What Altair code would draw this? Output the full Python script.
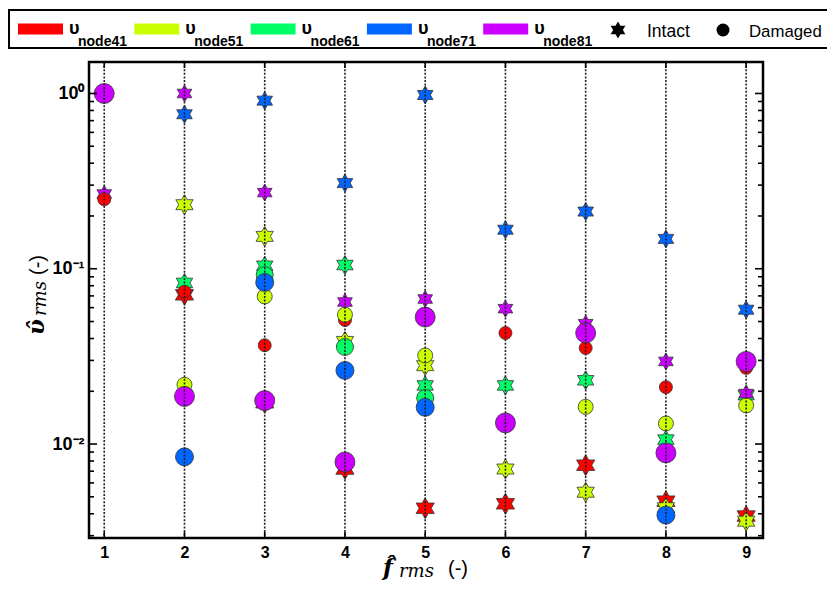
import altair as alt
import pandas as pd

# ---------------- data ----------------
nodes = ["node41", "node51", "node61", "node71", "node81"]
x_vals = [1, 2, 3, 4, 5, 6, 7, 8, 9]

# intact (stars)
intact_41 = [None, 0.071, 0.0172, 0.0072, 0.0043, 0.00456, 0.00757, 0.00472, 0.00388]
intact_51 = [None, 0.232, 0.153, 0.0385, 0.028, 0.0072, 0.00531, 0.00433, 0.00363]
intact_61 = [None, 0.083, 0.104, 0.105, 0.0216, 0.0216, 0.0231, 0.0106, 0.019]
intact_71 = [None, 0.761, 0.91, 0.308, 0.98, 0.167, 0.212, 0.148, 0.0584]
intact_81 = [0.267, 1.0, 0.272, 0.0646, 0.0672, 0.0592, 0.0486, 0.0296, 0.0194]

# damaged (circles)
damaged_41 = [0.249, 0.074, 0.0366, 0.051, None, 0.043, 0.0353, 0.0211, 0.0272]
damaged_51 = [None, 0.0218, 0.0695, 0.0547, 0.032, None, 0.0163, 0.0131, 0.0166]
damaged_61 = [None, None, 0.092, 0.0358, 0.0183, None, None, None, None]
damaged_71 = [None, 0.00845, 0.0835, 0.0263, 0.0162, None, None, 0.00393, None]
damaged_81 = [1.0, 0.0187, 0.0177, 0.0079, 0.053, 0.0132, 0.043, 0.0089, 0.0296]

y_major = [1.0, 0.1, 0.01]
y_minor = [0.003, 0.004, 0.005, 0.006, 0.007, 0.008, 0.009,
           0.02, 0.03, 0.04, 0.05, 0.06, 0.07, 0.08, 0.09,
           0.2, 0.3, 0.4, 0.5, 0.6, 0.7, 0.8, 0.9]

# ---------------- styles ----------------
colors = ["#ff0000", "#ccff00", "#00ff66", "#0066ff", "#cc00ff"]
star_sizes = [441, 400, 361, 324, 289]
circle_sizes = [169, 225, 289, 324, 400]
HEX = ("M0,-1L0.2887,-0.5L0.866,-0.5L0.5774,0L0.866,0.5L0.2887,0.5L0,1"
       "L-0.2887,0.5L-0.866,0.5L-0.5774,0L-0.866,-0.5L-0.2887,-0.5Z")

W, H = 674, 476


def build(series, sizes):
    rows = []
    for i, s in enumerate(series):
        for x, v in zip(x_vals, s):
            if v is not None:
                rows.append({"x": x, "v": v, "node": nodes[i],
                             "col": colors[i], "sz": sizes[i]})
    return pd.DataFrame(rows)


df_star = build([intact_41, intact_51, intact_61, intact_71, intact_81], star_sizes)
df_circ = build([damaged_41, damaged_51, damaged_61, damaged_71, damaged_81], circle_sizes)

xscale = alt.Scale(domain=[0.81, 9.21], nice=False, zero=False)
yscale = alt.Scale(type="log", domain=[0.00291, 1.512], nice=False)

xaxis = alt.Axis(values=x_vals, ticks=False, domain=False, grid=False, title=None,
                 labelFont="Liberation Sans", labelFontSize=16, labelFontWeight="bold",
                 labelColor="black", labelPadding=6, format="d")
yaxis = alt.Axis(values=y_major, ticks=False, domain=False, grid=False, title=None,
                 labelFont="Liberation Sans", labelFontSize=18, labelFontWeight="bold",
                 labelColor="black", labelPadding=5,
                 labelExpr="datum.value > 0.5 ? '10⁰' : (datum.value > 0.05 ? '10⁻¹' : '10⁻²')")


def X(f="x"):
    return alt.X(f + ":Q", scale=xscale, axis=xaxis)


def Y(f="v"):
    return alt.Y(f + ":Q", scale=yscale, axis=yaxis)


stars = alt.Chart(df_star).mark_point(shape=HEX, filled=True, opacity=1,
                                      stroke="#333333", strokeWidth=0.8).encode(
    x=X(), y=Y(), color=alt.Color("col:N", scale=None),
    size=alt.Size("sz:Q", scale=None))

circles = alt.Chart(df_circ).mark_point(shape="circle", filled=True, opacity=1,
                                        stroke="#333333", strokeWidth=0.8).encode(
    x=X(), y=Y(), color=alt.Color("col:N", scale=None),
    size=alt.Size("sz:Q", scale=None))

df_x = pd.DataFrame({"x": x_vals})
dotted = alt.Chart(df_x).mark_rule(color="#222222", strokeWidth=1.6,
                                   strokeDash=[2, 1.6]).encode(
    x=X(), y=alt.value(0), y2=alt.value(H))

tick_layers = []
df_maj = pd.DataFrame({"v": y_major})
df_min = pd.DataFrame({"v": y_minor})
for d, ln in [(df_maj, 8), (df_min, 5)]:
    tick_layers.append(alt.Chart(d).mark_rule(color="black", strokeWidth=1.6).encode(
        y=Y(), x=alt.value(0), x2=alt.value(ln)))
    tick_layers.append(alt.Chart(d).mark_rule(color="black", strokeWidth=1.6).encode(
        y=Y(), x=alt.value(W - ln), x2=alt.value(W)))
tick_layers.append(alt.Chart(df_x).mark_rule(color="black", strokeWidth=1.6).encode(
    x=X(), y=alt.value(H - 6), y2=alt.value(H)))
tick_layers.append(alt.Chart(df_x).mark_rule(color="black", strokeWidth=1.6).encode(
    x=X(), y=alt.value(0), y2=alt.value(6)))


def txt(s, xp, yp, size, weight="normal", style="normal", font="Liberation Sans",
        angle=0, align="left"):
    return alt.Chart(pd.DataFrame({"t": [s]})).mark_text(
        align=align, baseline="alphabetic", fontSize=size, fontWeight=weight,
        fontStyle=style, font=font, angle=angle, color="black").encode(
        x=alt.value(xp), y=alt.value(yp), text="t:N")


def box(x1, x2, y1, y2, fill, stroke=None, sw=0):
    kw = dict(fill=fill, opacity=1)
    if stroke:
        kw.update(stroke=stroke, strokeWidth=sw)
    return alt.Chart(pd.DataFrame({"k": [0]})).mark_rect(**kw).encode(
        x=alt.value(x1), x2=alt.value(x2), y=alt.value(y1), y2=alt.value(y2))


legend = [box(-80, 770, -52, -14, "white", "black", 2)]
for i, (nd, c) in enumerate(zip(nodes, colors)):
    x0 = -71 + i * 116.3
    legend.append(box(x0, x0 + 45, -38.5, -27.5, c))
    legend.append(txt("υ", x0 + 51, -28, 18, weight="bold"))
    legend.append(txt(nd, x0 + 60, -16.5, 14, weight="bold"))
legend.append(alt.Chart(pd.DataFrame({"k": [0]})).mark_point(
    shape=HEX, filled=True, color="black", opacity=1, size=289).encode(
    x=alt.value(529), y=alt.value(-32)))
legend.append(txt("Intact", 558, -25.5, 17.5))
legend.append(alt.Chart(pd.DataFrame({"k": [0]})).mark_point(
    shape="circle", filled=True, color="black", opacity=1, size=169).encode(
    x=alt.value(634), y=alt.value(-32)))
legend.append(txt("Damaged", 660, -25.5, 16.8))

titles = [
    txt("f̂", 294, 513, 23, weight="bold", style="italic", font="DejaVu Serif"),
    txt("rms", 310, 515, 18, style="italic", font="DejaVu Serif"),
    txt("(-)", 359, 513, 20),
    txt("υ̂", -45, 273, 23, weight="bold", style="italic", font="DejaVu Serif", angle=270),
    txt("rms", -43, 254, 18, style="italic", font="DejaVu Serif", angle=270),
    txt("(-)", -45, 213, 20, angle=270),
]

chart = alt.layer(stars, circles, dotted, *tick_layers, *legend, *titles).properties(
    width=W, height=H,
    autosize=alt.AutoSizeParams(type="none"),
    padding={"left": 81, "top": 54, "right": 64, "bottom": 45},
).configure_view(stroke="black", strokeWidth=2.5)

chart.save("out.html", embed_options={"renderer": "svg", "actions": False})
